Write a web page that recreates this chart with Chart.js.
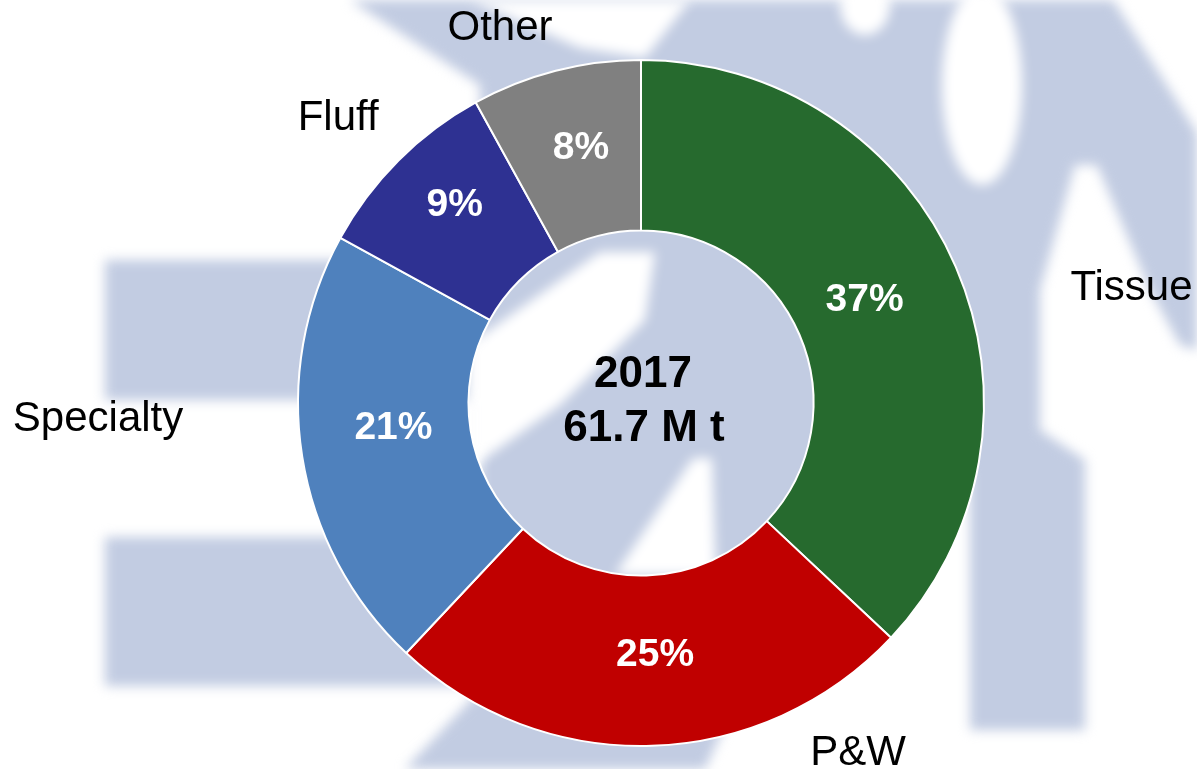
<!DOCTYPE html>
<html>
<head>
<meta charset="utf-8">
<script src="https://cdn.jsdelivr.net/npm/chart.js@4.4.0/dist/chart.umd.min.js"></script>
<style>
html,body{margin:0;padding:0;background:#ffffff;overflow:hidden}
#wrap{position:relative;width:1197px;height:769px}
canvas{display:block}
</style>
</head>
<body>
<div id="wrap"><canvas id="c" width="1197" height="769"></canvas></div>
<script>
// ---- data ----
const categories = ['Tissue', 'P&W', 'Specialty', 'Fluff', 'Other'];
const shares = [37, 25, 21, 9, 8];
const centerLines = ['2017', '61.7 M t'];

// ---- styles / layout ----
const sliceColors = ['#266a2e', '#c00000', '#4f81bd', '#2e3192', '#808080'];
// category label anchors, in units of outer radius from the chart centre
const labelOffsets = [[1.430, -0.343], [0.633, 1.012], [-1.583, 0.039], [-0.883, -0.840], [-0.411, -1.101]];
// small pixel nudges of the percentage labels from the slice centroid
const pctNudges = [[-13, -4], [6, -9], [7, -18], [-4, -19], [4, -8]];
const FONT = '"Liberation Sans", Arial, Helvetica, sans-serif';

// decorative background watermark (blurred logo)
const wmColor = '#c2cce2';
const wmBlue = [
  [[105,260],[480,260],[480,400],[105,400]],
  [[105,537],[480,537],[480,686],[105,686]],
  [[350,0],[1113,0],[1197,133],[1197,350],[1180,345],[1150,290],[1097,165],[1075,165],[1040,290],[1040,430],[1085,460],[1085,730],[970,730],[970,470],[800,560],[705,769],[405,769],[480,690],[480,85]]
];
const wmWhite = [
  [[470,0],[690,0],[645,58],[580,48]],
  [[468,345],[600,252],[655,252],[645,320],[560,405],[468,470]],
  [[693,458],[712,458],[716,575],[615,575]]
];
const wmWhiteEllipses = [[982,85,40,100],[865,5,25,30]];

function poly(ctx, pts){
  ctx.beginPath();
  pts.forEach((p,i)=> i? ctx.lineTo(p[0],p[1]) : ctx.moveTo(p[0],p[1]));
  ctx.closePath();
  ctx.fill();
}

const watermarkPlugin = {
  id: 'watermark',
  beforeDraw(chart){
    const ctx = chart.ctx;
    ctx.save();
    ctx.filter = 'blur(6px)';
    ctx.fillStyle = wmColor;
    wmBlue.forEach(p => poly(ctx, p));
    ctx.fillStyle = '#ffffff';
    wmWhite.forEach(p => poly(ctx, p));
    wmWhiteEllipses.forEach(e => {
      ctx.beginPath();
      ctx.ellipse(e[0], e[1], e[2], e[3], 0, 0, Math.PI*2);
      ctx.fill();
    });
    ctx.restore();
  }
};

function capText(ctx, text, x, y, size, weight, color){
  ctx.font = weight + ' ' + size + 'px ' + FONT;
  ctx.fillStyle = color;
  ctx.textAlign = 'center';
  ctx.textBaseline = 'alphabetic';
  ctx.fillText(text, x, y + 0.358*size);
}

const labelsPlugin = {
  id: 'labels',
  afterDatasetsDraw(chart){
    const ctx = chart.ctx;
    const meta = chart.getDatasetMeta(0);
    ctx.save();
    meta.data.forEach((arc, i) => {
      const c = arc.tooltipPosition(true);
      capText(ctx, shares[i] + '%', c.x + pctNudges[i][0], c.y + pctNudges[i][1], 39, 'bold', '#ffffff');
      const R = arc.outerRadius;
      capText(ctx, categories[i], arc.x + labelOffsets[i][0]*R, arc.y + labelOffsets[i][1]*R, 42, 'normal', '#000000');
    });
    const a0 = meta.data[0];
    capText(ctx, centerLines[0], a0.x + 2, a0.y - 32, 44, 'bold', '#000000');
    capText(ctx, centerLines[1], a0.x + 3, a0.y + 22, 44, 'bold', '#000000');
    ctx.restore();
  }
};

new Chart(document.getElementById('c'), {
  type: 'doughnut',
  data: {
    labels: categories,
    datasets: [{
      data: shares,
      backgroundColor: sliceColors,
      borderColor: '#ffffff',
      borderWidth: 2,
      hoverOffset: 0,
      offset: 0
    }]
  },
  options: {
    responsive: false,
    maintainAspectRatio: false,
    devicePixelRatio: 1,
    animation: false,
    events: [],
    cutout: '50.3%',
    layout: { padding: { top: 59, bottom: 22, left: 297, right: 212 } },
    plugins: { legend: { display: false }, tooltip: { enabled: false } }
  },
  plugins: [watermarkPlugin, labelsPlugin]
});
</script>
</body>
</html>
